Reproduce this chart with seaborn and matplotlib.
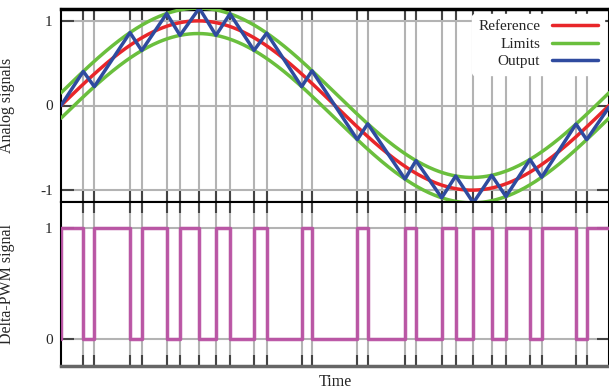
import numpy as np
import pandas as pd
import matplotlib
matplotlib.use("Agg")
import matplotlib.pyplot as plt
import seaborn as sns

# switching instants of the delta-PWM (fraction of one period)
switch_times = [0.0407, 0.0608, 0.1259, 0.1473, 0.1929, 0.2172, 0.2524,
                0.2828, 0.3084, 0.3522, 0.3754, 0.4392, 0.4580, 0.5407,
                0.5597, 0.6277, 0.6478, 0.6947, 0.7203, 0.7524, 0.7859,
                0.8120, 0.8558, 0.8772, 0.9398, 0.9593]
# pwm level on each interval between switches
pwm_levels = [1, 0, 1, 0, 1, 0, 1, 0, 1, 0, 1, 0, 1, 0,
              1, 0, 1, 0, 1, 0, 1, 0, 1, 0, 1, 0, 1]
initial_level = 0
amplitude = 1.0
band = 0.15
analog_ticks = [-1, 0, 1]
pwm_ticks = [0, 1]

RED = "#e8262a"
GREEN = "#6abf3d"
BLUE = "#2f4b9f"
PURPLE = "#ba52a4"

sns.set_style("white")
plt.rcParams["font.family"] = ["Liberation Serif", "DejaVu Serif"]
plt.rcParams["font.size"] = 11

# reference and hysteresis limits
t = np.linspace(0, 1, 500)
ref = amplitude * np.sin(2 * np.pi * t)
df_ref = pd.DataFrame({"t": t, "ref": ref, "hi": ref + band, "lo": ref - band})

# output: linear ramps touching the limits at each switch
out_t = [0.0] + switch_times + [1.0]
out_y = [0.0]
for k, ts in enumerate(switch_times):
    r = amplitude * np.sin(2 * np.pi * ts)
    out_y.append(r + band if pwm_levels[k] == 1 else r - band)
# last ramp (rising) to the end
slope = (out_y[-1] - out_y[-2]) / (out_t[-2] - out_t[-3])
out_y.append(out_y[-1] + abs(slope) * (1.0 - switch_times[-1]))
df_out = pd.DataFrame({"t": out_t, "y": out_y})

df_pwm = pd.DataFrame({"t": [0.0, 0.0] + switch_times + [1.0],
                       "s": [initial_level] + pwm_levels + [pwm_levels[-1]]})

fig = plt.figure(figsize=(6.09, 3.91), dpi=100)
ax1 = fig.add_axes([61 / 609, (391 - 202) / 391, 1 - 61 / 609, (202 - 9) / 391])
ax2 = fig.add_axes([61 / 609, (391 - 366) / 391, 1 - 61 / 609, (366 - 202) / 391])

# grid at the switching instants
grid_kw = dict(color="#b3b3b3", lw=1.5, zorder=0)
for ax in (ax1, ax2):
    for ts in switch_times:
        ax.axvline(ts, **grid_kw)
for yv in analog_ticks:
    ax1.axhline(yv, **grid_kw)
for yv in pwm_ticks:
    ax2.axhline(yv, **grid_kw)

sns.lineplot(data=df_ref, x="t", y="ref", color=RED, lw=2.5, ax=ax1, label="Reference", zorder=3)
sns.lineplot(data=df_ref, x="t", y="hi", color=GREEN, lw=2.5, ax=ax1, label="Limits", zorder=3)
sns.lineplot(data=df_ref, x="t", y="lo", color=GREEN, lw=2.5, ax=ax1, zorder=3)
sns.lineplot(data=df_out, x="t", y="y", color=BLUE, lw=2.5, ax=ax1, label="Output", zorder=4)

sns.lineplot(data=df_pwm, x="t", y="s", color=PURPLE, lw=2.5, drawstyle="steps-post",
             ax=ax2, zorder=3, alpha=0.95, sort=False, estimator=None)

ax1.set_ylim(-1.14, 1.14)
ax2.set_ylim(-0.24, 1.23)
for ax in (ax1, ax2):
    ax.set_xlim(0, 1)
    ax.set_xticks(switch_times)
    ax.set_xticklabels([])
    ax.tick_params(axis="x", direction="in", length=8, width=1.5, color="#444444",
                   top=True, bottom=True)
    ax.tick_params(axis="y", direction="in", length=9, width=1.5, color="#444444",
                   left=True, right=True, pad=6, labelsize=11)
    ax.set_xlabel("")
    for side in ("left", "right"):
        ax.spines[side].set_color("black")
        ax.spines[side].set_linewidth(1.5)

ax1.set_yticks(analog_ticks)
ax1.set_yticklabels(["-1", "0", "1"])
ax2.set_yticks(pwm_ticks)
ax2.set_yticklabels(["0", "1"])

ax1.spines["top"].set_color("black")
ax1.spines["top"].set_linewidth(2.5)
ax1.spines["bottom"].set_color("black")
ax1.spines["bottom"].set_linewidth(1.5)
ax2.spines["top"].set_color("black")
ax2.spines["top"].set_linewidth(1.5)
ax2.spines["bottom"].set_color("#666666")
ax2.spines["bottom"].set_linewidth(2.5)

ax1.set_ylabel("Analog signals", fontsize=11.5)
ax2.set_ylabel("Delta-PWM signal", fontsize=11.5)
ax1.yaxis.set_label_coords(-0.084, 0.5)
ax2.yaxis.set_label_coords(-0.084, 0.5)
ax2.set_xlabel("Time", fontsize=11.5)
ax2.xaxis.label.set_va("center")
ax2.xaxis.set_label_coords(0.5, -(382 - 366) / 164)

leg = ax1.legend(loc="upper right", frameon=True, markerfirst=False, handlelength=3.0,
                 fontsize=11, borderaxespad=0.3, labelspacing=0.25, handletextpad=0.8)
leg.get_frame().set_facecolor("white")
leg.get_frame().set_edgecolor("white")
leg.get_frame().set_alpha(1.0)
for txt in leg.get_texts():
    txt.set_ha("right")

fig.savefig("out.png", dpi=100)
plt.close(fig)
